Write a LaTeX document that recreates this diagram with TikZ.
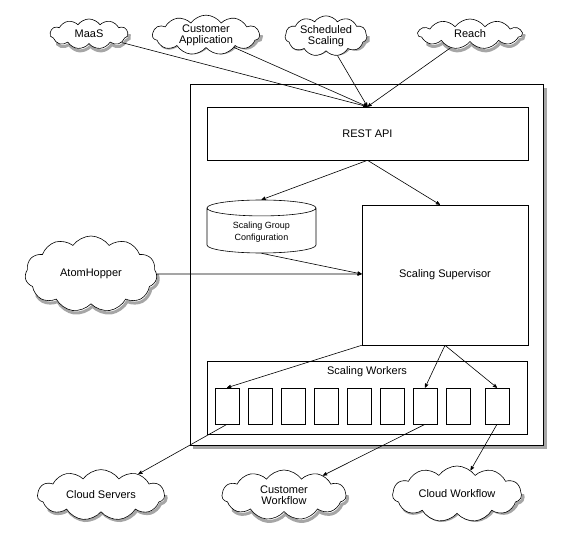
\documentclass[tikz,border=0pt]{standalone}
\usepackage{fontspec}
\setmainfont{Liberation Sans}
\usetikzlibrary{shapes.symbols, shapes.geometric, positioning, arrows}
\tikzset{
>=stealth', % filled heads
every edge/.append style={->}, % every connector gets a head
every node/.style={font=\fontsize{11}{13}\selectfont, align=center},
cloudy/.style={cloud, cloud puffs=11, cloud puff arc=110, aspect=2.6, draw, fill=white, inner sep=0pt}, % the outside services
box/.style={draw, fill=white, inner sep=0pt}, % plain boxes
worker/.style={box, minimum width=24pt, minimum height=36pt}, % one worker slot
}
% grey shadow under the lower half of a cloud: options, x, y, width, height
\newcommand{\cloudshadow}[5]{%
  \begin{scope}
    \clip ({#2-0.42*#4},#3) rectangle ({#2+#4},{#3+#5});
    \node[cloudy, #1, fill=none, draw=black!35, line width=3pt, minimum width=#4pt, minimum height=#5pt] at ({#2+1.5},{#3+2.5}) {};
  \end{scope}}

\begin{document}
\begin{tikzpicture}[x=1pt, y=-1pt, line width=0.6pt]
                \useasboundingbox (0,0) rectangle (563,546);
                % the service boundary and its shadow
                \draw[black!35, line width=3pt] (545,88) -- (545,447) -- (193,447);
                \node[box, minimum width=353pt, minimum height=361pt] (otter) at (366.5,264.5) {};
                \node[box, minimum width=321pt, minimum height=53pt] (api) at (367.5,133.5) {REST API};
                \node[cylinder, shape border rotate=90, aspect=0.25, draw, fill=white, minimum width=109pt, minimum height=53pt,
                      font=\fontsize{9}{12}\selectfont] (cfg) at (261.5,232) {Scaling Group\\Configuration};
                \node[box, minimum width=166pt, minimum height=140pt] (sup) at (445,275) {Scaling Supervisor};
                \node[box, minimum width=320pt, minimum height=73pt] (pool) at (367,397.5) {};
                \node (poollbl) at (367,372) {Scaling Workers};
                \foreach \i/\x in {1/227,2/260,3/293,4/326,5/359,6/392,7/425,8/458,9/497}
                    \node[worker] (w\i) at (\x,406) {};
                % callers
                \cloudshadow{}{89}{34}{78}{30}
                \node[cloudy, minimum width=78pt, minimum height=30pt] (maas) at (89,34) {MaaS};
                \cloudshadow{}{206}{35}{107}{32}
                \node[cloudy, minimum width=107pt, minimum height=32pt] (custapp) at (206,35) {Customer\\[-2pt]Application};
                \cloudshadow{}{326}{36}{82}{32}
                \node[cloudy, minimum width=82pt, minimum height=32pt] (sched) at (326,36) {Scheduled\\[-2pt]Scaling};
                \cloudshadow{}{470}{34}{104}{30}
                \node[cloudy, minimum width=104pt, minimum height=30pt] (reach) at (470,34) {Reach};
                \cloudshadow{aspect=1.7}{91}{274}{132}{76}
                \node[cloudy, aspect=1.7, minimum width=132pt, minimum height=76pt] (atom) at (91,274) {AtomHopper};
                % backends
                \cloudshadow{}{101}{495}{127}{48}
                \node[cloudy, minimum width=127pt, minimum height=48pt] (servers) at (101,495) {Cloud Servers};
                \cloudshadow{}{284}{495}{124}{50}
                \node[cloudy, minimum width=124pt, minimum height=50pt] (custwf) at (284,495) {Customer\\[-2pt]Workflow};
                \cloudshadow{}{457}{494}{129}{50}
                \node[cloudy, minimum width=129pt, minimum height=50pt] (cloudwf) at (457,494) {Cloud Workflow};
                \path
                    (maas) edge (api.north)
                    (custapp) edge (api.north)
                    (sched) edge (api.north)
                    (reach) edge (api.north)
                    (api.south) edge (cfg.north)
                    (api.south) edge ([xshift=-5pt]sup.north)
                    (cfg.south) edge (atom -| sup.west)
                    (atom) edge (atom -| sup.west)
                    (sup.south west) edge (w1.north)
                    (sup.south) edge (w7.north)
                    (sup.south) edge (w9.north)
                    (w1.south) edge (servers)
                    (w7.south) edge (custwf)
                    (w9.south) edge (cloudwf)
                    ;
                \end{tikzpicture}
\end{document}
